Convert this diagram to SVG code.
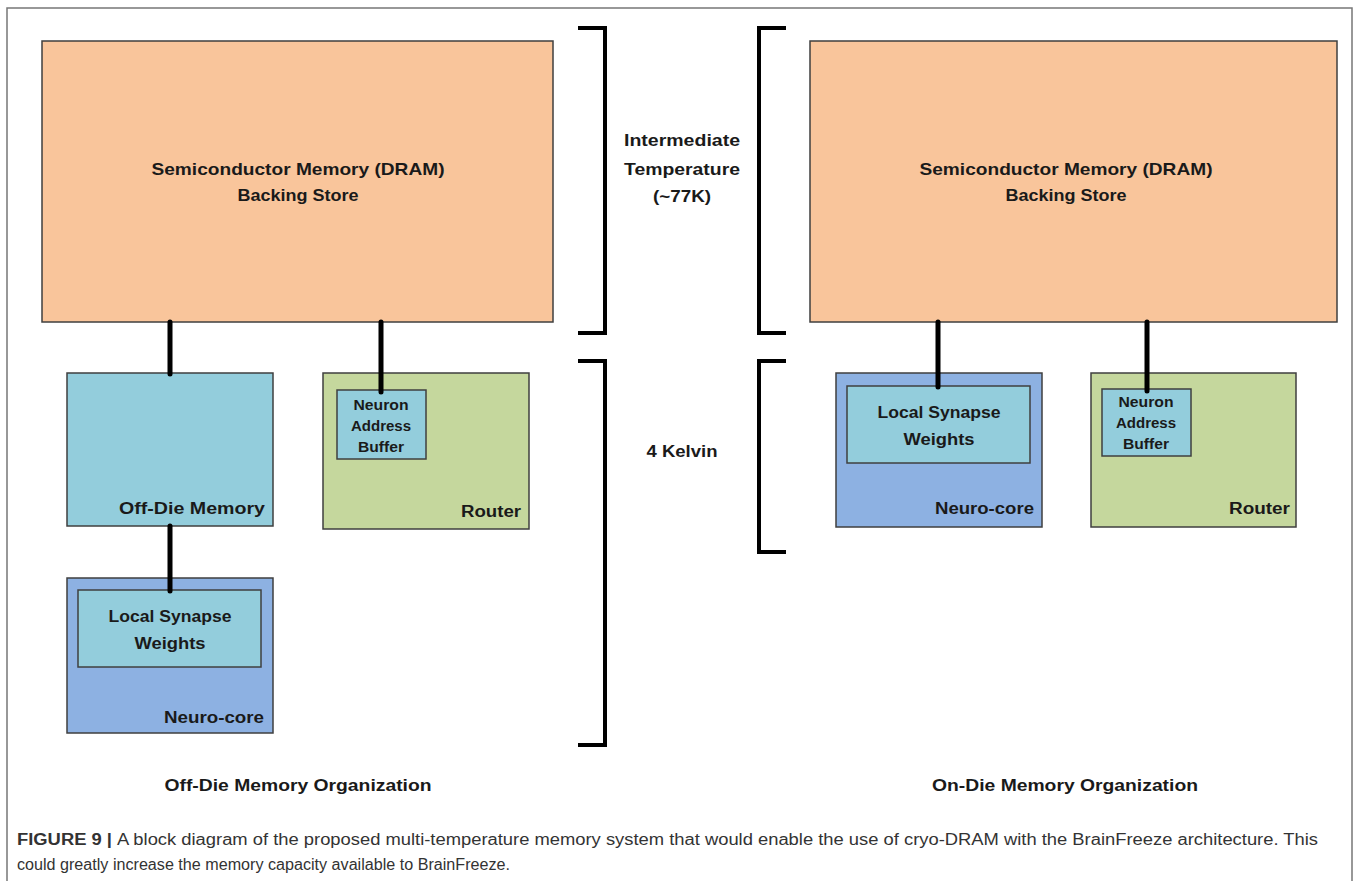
<svg xmlns="http://www.w3.org/2000/svg" width="1358" height="881" viewBox="0 0 1358 881">
<style>
.t{font-family:"Liberation Sans",Arial,sans-serif;font-weight:bold;fill:#1a1a1a;}
.box{stroke:#3f3f3f;stroke-width:1.5;}
.dram{fill:#F9C59B;}
.teal{fill:#93CDDC;}
.green{fill:#C5D79D;}
.blue{fill:#8DB1E2;}
.br{fill:none;stroke:#000;stroke-width:4;}
.cn{stroke:#000;stroke-width:5;stroke-linecap:round;}
.cap{font-family:"Liberation Sans",Arial,sans-serif;fill:#333;font-size:16px;}
</style>
<rect width="1358" height="881" fill="#fff"/>
<path d="M7,881 V8 H1352 V881" fill="none" stroke="#777" stroke-width="1.5"/>

<g id="brackets">
<path class="br" d="M578,28 H605 V333 H578"/>
<path class="br" d="M578,361 H605 V745 H578"/>
<path class="br" d="M786,28 H759 V333 H786"/>
<path class="br" d="M786,361 H759 V552 H786"/>
</g>

<g id="temp-labels">
<text class="t" font-size="16" text-anchor="middle" x="682" y="146" textLength="116" lengthAdjust="spacingAndGlyphs">Intermediate</text>
<text class="t" font-size="16" text-anchor="middle" x="682" y="175" textLength="116" lengthAdjust="spacingAndGlyphs">Temperature</text>
<text class="t" font-size="16" text-anchor="middle" x="682" y="202" textLength="58" lengthAdjust="spacingAndGlyphs">(~77K)</text>
<text class="t" font-size="16" text-anchor="middle" x="682" y="457" textLength="71" lengthAdjust="spacingAndGlyphs">4 Kelvin</text>
</g>

<g id="dram-left">
<rect class="box dram" x="42" y="41" width="511" height="281"/>
<text class="t" font-size="17" text-anchor="middle" x="298" y="175" textLength="293" lengthAdjust="spacingAndGlyphs">Semiconductor Memory (DRAM)</text>
<text class="t" font-size="17" text-anchor="middle" x="298" y="201" textLength="121" lengthAdjust="spacingAndGlyphs">Backing Store</text>
</g>

<g id="dram-right">
<rect class="box dram" x="810" y="41" width="527" height="281"/>
<text class="t" font-size="17" text-anchor="middle" x="1066" y="175" textLength="293" lengthAdjust="spacingAndGlyphs">Semiconductor Memory (DRAM)</text>
<text class="t" font-size="17" text-anchor="middle" x="1066" y="201" textLength="121" lengthAdjust="spacingAndGlyphs">Backing Store</text>
</g>

<g id="offdie-memory">
<rect class="box teal" x="67" y="373" width="206" height="153"/>
<text class="t" font-size="16" text-anchor="end" x="265" y="514" textLength="146" lengthAdjust="spacingAndGlyphs">Off-Die Memory</text>
</g>

<g id="router-left">
<rect class="box green" x="323" y="373" width="206" height="156"/>
<text class="t" font-size="16" text-anchor="end" x="521" y="517" textLength="60" lengthAdjust="spacingAndGlyphs">Router</text>
</g>

<g id="nab-left">
<rect class="box teal" x="337" y="390" width="89" height="69"/>
<text class="t" font-size="14" text-anchor="middle" x="381" y="410" textLength="55" lengthAdjust="spacingAndGlyphs">Neuron</text>
<text class="t" font-size="14" text-anchor="middle" x="381" y="431" textLength="60" lengthAdjust="spacingAndGlyphs">Address</text>
<text class="t" font-size="14" text-anchor="middle" x="381" y="452" textLength="46" lengthAdjust="spacingAndGlyphs">Buffer</text>
</g>

<g id="neurocore-left">
<rect class="box blue" x="67" y="578" width="206" height="155"/>
<text class="t" font-size="16" text-anchor="end" x="264" y="723" textLength="100" lengthAdjust="spacingAndGlyphs">Neuro-core</text>
</g>

<g id="lsw-left">
<rect class="box teal" x="78" y="590" width="183" height="77"/>
<text class="t" font-size="16" text-anchor="middle" x="170" y="622" textLength="123" lengthAdjust="spacingAndGlyphs">Local Synapse</text>
<text class="t" font-size="16" text-anchor="middle" x="170" y="649" textLength="71" lengthAdjust="spacingAndGlyphs">Weights</text>
</g>

<g id="neurocore-right">
<rect class="box blue" x="836" y="373" width="206" height="154"/>
<text class="t" font-size="16" text-anchor="end" x="1034" y="514" textLength="99" lengthAdjust="spacingAndGlyphs">Neuro-core</text>
</g>

<g id="lsw-right">
<rect class="box teal" x="847" y="386" width="183" height="77"/>
<text class="t" font-size="16" text-anchor="middle" x="939" y="418" textLength="123" lengthAdjust="spacingAndGlyphs">Local Synapse</text>
<text class="t" font-size="16" text-anchor="middle" x="939" y="445" textLength="71" lengthAdjust="spacingAndGlyphs">Weights</text>
</g>

<g id="router-right">
<rect class="box green" x="1091" y="373" width="205" height="154"/>
<text class="t" font-size="16" text-anchor="end" x="1290" y="514" textLength="61" lengthAdjust="spacingAndGlyphs">Router</text>
</g>

<g id="nab-right">
<rect class="box teal" x="1102" y="389" width="89" height="67"/>
<text class="t" font-size="14" text-anchor="middle" x="1146" y="407" textLength="55" lengthAdjust="spacingAndGlyphs">Neuron</text>
<text class="t" font-size="14" text-anchor="middle" x="1146" y="428" textLength="60" lengthAdjust="spacingAndGlyphs">Address</text>
<text class="t" font-size="14" text-anchor="middle" x="1146" y="449" textLength="46" lengthAdjust="spacingAndGlyphs">Buffer</text>
</g>

<g id="connectors">
<line class="cn" x1="170" y1="322" x2="170" y2="374"/>
<line class="cn" x1="381" y1="322" x2="381" y2="392"/>
<line class="cn" x1="170" y1="526" x2="170" y2="591"/>
<line class="cn" x1="938" y1="322" x2="938" y2="387"/>
<line class="cn" x1="1147" y1="322" x2="1147" y2="391"/>
</g>

<g id="section-labels">
<text class="t" font-size="17" text-anchor="middle" x="298" y="791" textLength="267" lengthAdjust="spacingAndGlyphs">Off-Die Memory Organization</text>
<text class="t" font-size="17" text-anchor="middle" x="1065" y="791" textLength="266" lengthAdjust="spacingAndGlyphs">On-Die Memory Organization</text>
</g>

<g id="caption">
<text class="cap" font-weight="bold" x="17" y="845" textLength="95" lengthAdjust="spacingAndGlyphs">FIGURE 9 |</text>
<text class="cap" x="117" y="845" textLength="1201" lengthAdjust="spacingAndGlyphs">A block diagram of the proposed multi-temperature memory system that would enable the use of cryo-DRAM with the BrainFreeze architecture. This</text>
<text class="cap" x="17" y="870" textLength="493" lengthAdjust="spacingAndGlyphs">could greatly increase the memory capacity available to BrainFreeze.</text>
</g>
</svg>
